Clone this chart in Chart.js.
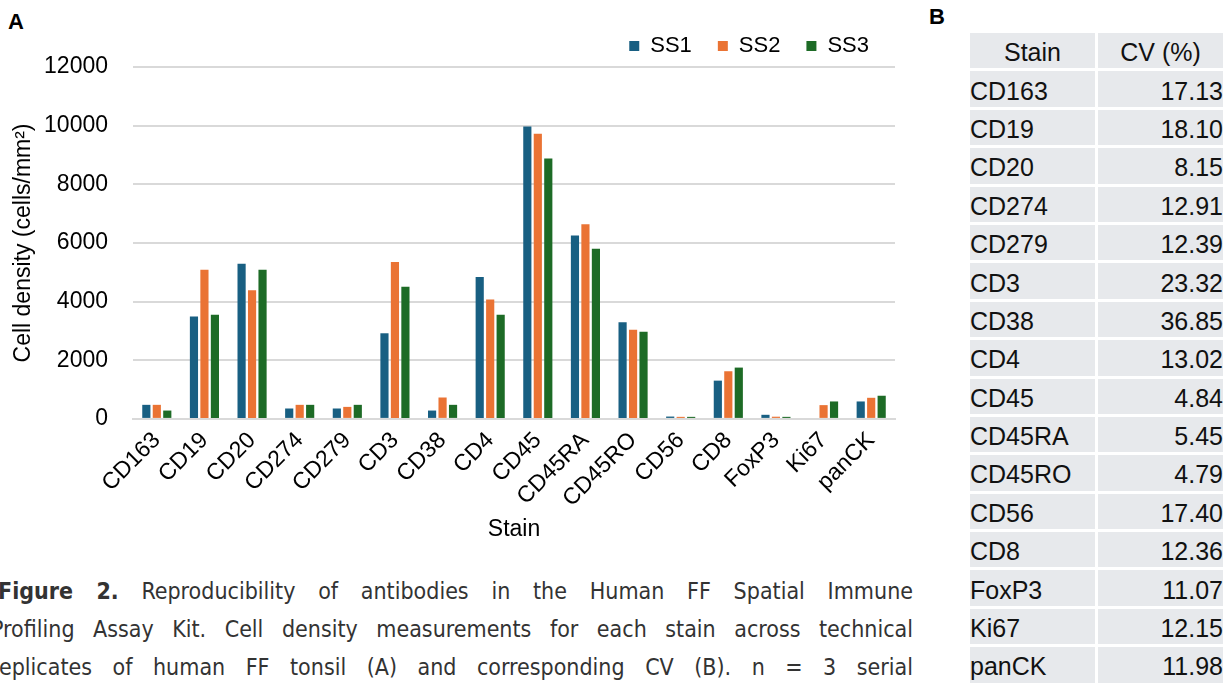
<!DOCTYPE html>
<html>
<head>
<meta charset="utf-8">
<script src="https://cdn.jsdelivr.net/npm/chart.js"></script>
<style>
  body { margin: 0; background: #fff; width: 1231px; height: 692px; overflow: hidden; position: relative; font-family: "Liberation Sans", Arial, sans-serif; }
  .panel { position: absolute; font-weight: bold; font-size: 22px; color: #000; }
  #chartBox { position: absolute; left: 0; top: 0; width: 925px; height: 548px; }
  #cvTable { position: absolute; left: 967px; top: 30px; border-collapse: separate; border-spacing: 3px 3px; font-size: 25px; color: #111; }
  #cvTable td, #cvTable th { background: #e7e9ec; height: 35.4px; padding: 4px 0 0 0; line-height: 1; font-weight: normal; box-sizing: border-box; }
  #cvTable th { text-align: center; }
  #cvTable td.name { width: 125px; text-align: left; }
  #cvTable td.val { width: 125px; text-align: right; }
  .cap { position: absolute; left: -9px; width: 922px; font-family: "Liberation Sans Narrow", "DejaVu Sans Condensed", sans-serif; font-size: 23px; color: #333; text-align: justify; text-align-last: justify; white-space: nowrap; }
</style>
</head>
<body>
<div class="panel" style="left:8px; top:9px;">A</div>
<div class="panel" style="left:929px; top:4px;">B</div>
<div id="chartBox"><canvas id="bars"></canvas></div>
<table id="cvTable"></table>
<div class="cap" style="top:578px; left:-2px; width:915px;"><b>Figure 2.</b> Reproducibility of antibodies in the Human FF Spatial Immune</div>
<div class="cap" style="top:616px;">Profiling Assay Kit. Cell density measurements for each stain across technical</div>
<div class="cap" style="top:654px;">replicates of human FF tonsil (A) and corresponding CV (B). n = 3 serial</div>
<script>
// stains and cell densities (cells/mm2) per technical replicate
const stains = ['CD163', 'CD19', 'CD20', 'CD274', 'CD279', 'CD3', 'CD38', 'CD4', 'CD45', 'CD45RA', 'CD45RO', 'CD56', 'CD8', 'FoxP3', 'Ki67', 'panCK'];
const ss1 = [480, 3490, 5290, 355, 355, 2920, 285, 4840, 9970, 6250, 3300, 80, 1305, 140, null, 595];
const ss2 = [480, 5090, 4390, 480, 410, 5350, 730, 4070, 9720, 6640, 3040, 70, 1625, 75, 470, 720];
const ss3 = [285, 3555, 5090, 480, 480, 4510, 480, 3555, 8880, 5800, 2970, 70, 1750, 70, 595, 790];
const cvPct = ['17.13', '18.10', '8.15', '12.91', '12.39', '23.32', '36.85', '13.02', '4.84', '5.45', '4.79', '17.40', '12.36', '11.07', '12.15', '11.98'];
const yTicks = [0, 2000, 4000, 6000, 8000, 10000, 12000];

const font = { family: '"Liberation Sans", Arial, sans-serif', size: 23 };
const legendFont = { family: '"Liberation Sans", Arial, sans-serif', size: 22 };

// table B
let rows = '<tr><th>Stain</th><th>CV (%)</th></tr>';
stains.forEach((s, i) => {
  rows += '<tr><td class="name">' + s + '</td><td class="val">' + cvPct[i] + '</td></tr>';
});
document.getElementById('cvTable').innerHTML = rows;

new Chart(document.getElementById('bars'), {
  type: 'bar',
  data: {
    labels: stains,
    datasets: [
      { label: 'SS1', data: ss1, backgroundColor: '#185f82' },
      { label: 'SS2', data: ss2, backgroundColor: '#ea7334' },
      { label: 'SS3', data: ss3, backgroundColor: '#1d6b26' }
    ]
  },
  options: {
    responsive: true,
    maintainAspectRatio: false,
    animation: false,
    categoryPercentage: 0.66,
    barPercentage: 0.78,
    layout: { padding: { top: 9, right: 30, left: 8, bottom: 5 } },
    plugins: {
      legend: {
        align: 'end',
        labels: { font: legendFont, color: '#000', boxWidth: 10, boxHeight: 10, padding: 26 }
      },
      tooltip: { enabled: false }
    },
    scales: {
      y: {
        min: 0, max: 12000,
        afterBuildTicks: axis => { axis.ticks = yTicks.map(v => ({ value: v })); },
        afterFit: s => { s.width = 125; },
        ticks: { font: font, color: '#000', padding: 25, callback: v => String(v) },
        grid: { color: '#d9d9d9', lineWidth: 2, drawTicks: false },
        border: { display: false },
        title: { display: true, text: 'Cell density (cells/mm²)', font: font, color: '#000', padding: { top: 2, bottom: 4 } }
      },
      x: {
        afterFit: s => { s.paddingLeft = 0; },
        ticks: { font: font, color: '#000', minRotation: 45, maxRotation: 45, autoSkip: false, padding: 0 },
        grid: { display: false },
        border: { color: '#d9d9d9', width: 2 },
        title: { display: true, text: 'Stain', font: font, color: '#000', padding: { top: 3, bottom: 0 } }
      }
    }
  }
});
</script>
</body>
</html>
